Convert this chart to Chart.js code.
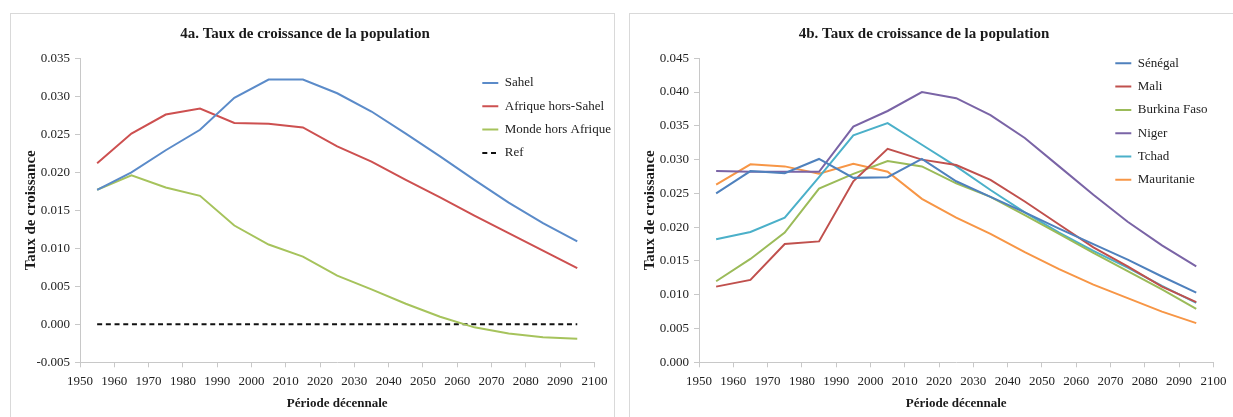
<!DOCTYPE html>
<html><head><meta charset="utf-8">
<script src="https://cdn.jsdelivr.net/npm/chart.js@4/dist/chart.umd.min.js"></script>
<style>
html,body{margin:0;padding:0;background:#fff;overflow:hidden;width:1233px;height:417px;}
.frame{position:absolute;top:13px;width:605px;height:410px;border:1px solid #d9d9d9;box-sizing:border-box;background:#fff;}
#f1{left:10px} #f2{left:629px}
canvas{display:block}
</style></head><body>
<div class="frame" id="f1"><canvas id="c1" width="603" height="408"></canvas></div>
<div class="frame" id="f2"><canvas id="c2" width="603" height="408"></canvas></div>
<script>
// ---------- data ----------
const years = [1955,1965,1975,1985,1995,2005,2015,2025,2035,2045,2055,2065,2075,2085,2095];

// 4a
const sahel          = [0.0177,0.0200,0.0229,0.0256,0.0298,0.0322,0.0322,0.0304,0.0280,0.0251,0.0221,0.0190,0.0160,0.0133,0.0109];
const afriqueHors    = [0.0212,0.0251,0.0276,0.0284,0.0265,0.0264,0.0259,0.0234,0.0214,0.0190,0.0167,0.0143,0.0120,0.0097,0.0074];
const mondeHors      = [0.0177,0.0196,0.0180,0.0169,0.0130,0.0105,0.0089,0.0064,0.0046,0.0027,0.0010,-0.0004,-0.0012,-0.0017,-0.0019];
const ref            = [0,0,0,0,0,0,0,0,0,0,0,0,0,0,0];

// 4b
const senegal    = [0.0250,0.0283,0.0280,0.0301,0.0273,0.0274,0.0301,0.0268,0.0245,0.0222,0.0198,0.0175,0.0152,0.0127,0.0103];
const mali       = [0.0112,0.0122,0.0175,0.0179,0.0268,0.0316,0.0300,0.0292,0.0270,0.0238,0.0204,0.0170,0.0142,0.0112,0.0089];
const burkina    = [0.0120,0.0153,0.0192,0.0257,0.0279,0.0298,0.0290,0.0265,0.0245,0.0218,0.0190,0.0162,0.0135,0.0108,0.0079];
const niger      = [0.0283,0.0282,0.0282,0.0282,0.0349,0.0372,0.0400,0.0391,0.0366,0.0332,0.0290,0.0248,0.0208,0.0173,0.0142];
const tchad      = [0.0182,0.0193,0.0214,0.0274,0.0336,0.0354,0.0322,0.0290,0.0255,0.0222,0.0192,0.0165,0.0140,0.0113,0.0088];
const mauritanie = [0.0263,0.0293,0.0290,0.0279,0.0294,0.0282,0.0242,0.0214,0.0190,0.0163,0.0138,0.0115,0.0095,0.0075,0.0058];

const xTickMin = 1950, xTickMax = 2100, xTickStep = 10;

// ---------- helpers ----------
Chart.defaults.font.family = "'Liberation Serif', 'Times New Roman', serif";
Chart.defaults.color = '#222';

const pts = arr => arr.map((v, i) => ({x: years[i], y: v}));
const ds = (label, arr, color, dash) => ({
  label, data: pts(arr), borderColor: color, backgroundColor: color,
  borderWidth: 2, pointRadius: 0, tension: 0, borderDash: dash || [], fill: false
});

const legendPos = {
  id: 'legendPos',
  afterLayout(chart, args, opts) {
    const l = chart.legend;
    if (!l) return;
    l.left = opts.x; l.top = opts.y;
    l.right = l.left + 200; l.bottom = l.top + 300;
    l.width = 200; l.height = 300;
  }
};

const genLabels = chart =>
  Chart.defaults.plugins.legend.labels.generateLabels(chart).map(it => {
    const d = chart.data.datasets[it.datasetIndex];
    it.lineDash = d.borderDash || [];
    it.lineWidth = d.borderWidth;
    it.strokeStyle = d.borderColor;
    it.fillStyle = d.borderColor;
    return it;
  });

function makeChart(id, title, datasets, yMin, yMax, legendXY) {
  return new Chart(document.getElementById(id), {
    type: 'line',
    data: { datasets },
    plugins: [legendPos],
    options: {
      responsive: false, animation: false,
      layout: { padding: { left: 0, right: 15, top: 0, bottom: 0 } },
      plugins: {
        title: { display: true, text: title, color: '#1a1a1a',
                 font: { size: 15, weight: 'bold' }, padding: { top: 11, bottom: 15.3 } },
        legend: { display: true, position: 'chartArea', align: 'start',
                  labels: { usePointStyle: true, pointStyle: 'line', pointStyleWidth: 16,
                            generateLabels: genLabels,
                            font: { size: 13 }, padding: 10.3, color: '#222' } },
        legendPos: legendXY,
        tooltip: { enabled: false }
      },
      scales: {
        x: {
          type: 'linear', min: xTickMin, max: xTickMax,
          afterFit: s => { s.height = 408 - 348.3; },
          ticks: { stepSize: xTickStep, padding: 6.6, font: { size: 13 }, color: '#222',
                   maxRotation: 0, autoSkip: false, callback: v => String(v) },
          grid: { display: true, drawOnChartArea: false, drawTicks: true, tickLength: 5, color: '#c8c8c8' },
          border: { display: true, color: '#c8c8c8' },
          title: { display: true, text: 'Période décennale', color: '#1a1a1a',
                   font: { size: 13, weight: 'bold' }, padding: { top: 0, bottom: 11 } }
        },
        y: {
          min: yMin, max: yMax,
          afterFit: s => { s.width = 69; },
          ticks: { stepSize: 0.005, padding: 5, font: { size: 13 }, color: '#222',
                   callback: v => Math.abs(v) < 1e-9 ? '0.000' : Number(v).toFixed(3) },
          grid: { display: true, drawOnChartArea: false, drawTicks: true, tickLength: 5, color: '#c8c8c8' },
          border: { display: true, color: '#c8c8c8' },
          title: { display: true, text: 'Taux de croissance', color: '#1a1a1a',
                   font: { size: 15, weight: 'bold' }, padding: { top: 11, bottom: 0 } }
        }
      }
    }
  });
}

makeChart('c1', '4a. Taux de croissance de la population', [
  ds('Sahel', sahel, '#5B8BC9'),
  ds('Afrique hors-Sahel', afriqueHors, '#CD5050'),
  ds('Monde hors Afrique', mondeHors, '#A6C35C'),
  ds('Ref', ref, '#111111', [5, 3.7])
], -0.005, 0.035, { x: 461, y: 52.2 });

makeChart('c2', '4b. Taux de croissance de la population', [
  ds('Sénégal', senegal, '#4F81BD'),
  ds('Mali', mali, '#C0504D'),
  ds('Burkina Faso', burkina, '#9BBB59'),
  ds('Niger', niger, '#7A64A6'),
  ds('Tchad', tchad, '#4BB0C9'),
  ds('Mauritanie', mauritanie, '#F79646')
], 0, 0.045, { x: 475, y: 32.5 });
</script>
</body></html>
